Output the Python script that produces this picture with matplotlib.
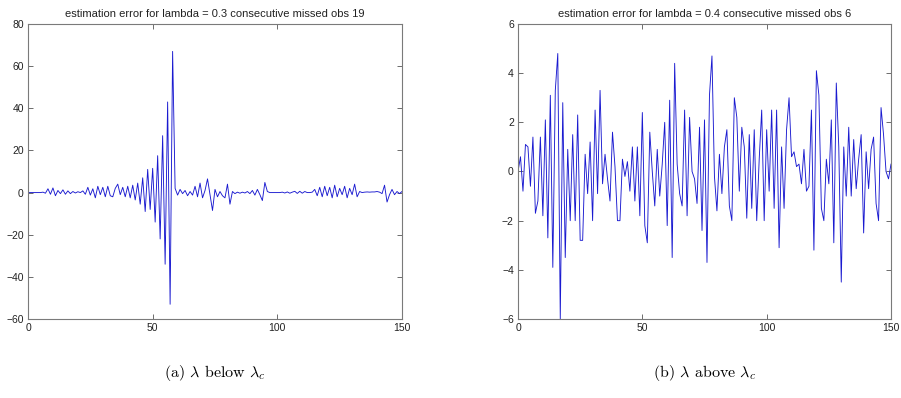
import matplotlib
matplotlib.use("Agg")
import matplotlib.pyplot as plt
import numpy as np

# estimation error, lambda = 0.3 (below lambda_c), samples t = 0..150
err_low = [
    0, 0, 0, 0, 0, 0, 0.2, -0.3, 1.8, -0.8,
    2.2, -1.5, 1.0, -0.5, 1.3, -0.8, 0.8, -0.5, 0.5, -0.2,
    0.4, 0.0, 0.8, -0.8, 2.5, -1.2, 1.8, -2.5, 3.0, -1.0,
    2.5, -2.0, 3.0, -1.5, -2.0, 2.0, 4.0, -1.0, 2.5, -2.0,
    3.0, -2.5, 3.5, -3.5, 4.5, -5.5, 7.0, -9.0, 11.0, -8.0,
    11.5, -14.0, 17.5, -22.0, 27.0, -34.0, 43.0, -53.0, 67.0, 2.0,
    -1.2, 1.5, -0.5, 1.0, -1.5, 0.5, -1.2, 3.0, -2.0, 4.5,
    -2.5, 1.0, 6.5, -1.0, -8.5, 1.5, -2.0, 0.5, -1.5, -2.5,
    4.0, -5.5, 0.5, -0.5, 0.2, -0.3, 0.2, -0.2, 0.5, -0.5,
    1.0, -1.2, 1.5, -1.0, -3.8, 4.8, 0.5, 0.0, 0.0, 0.0,
    0.0, 0.0, 0.2, -0.2, 0.3, -0.3, 0.2, 0.6, -0.4, 0.6,
    -0.3, 0.5, 0.0, 0.0, 0.2, 1.5, -1.5, 2.5, -2.0, 3.0,
    -1.5, 2.5, -2.5, 3.5, -2.0, 2.0, -1.0, 3.0, -2.5, 2.0,
    -1.0, 4.0, -2.0, 0.5, 0.0, 0.2, 0.3, 0.2, 0.3, 0.3,
    0.5, 0.2, -0.5, 3.5, -4.5, -1.0, 1.5, -1.0, 0.5, -0.5,
    0.5,
]

# estimation error, lambda = 0.4 (above lambda_c)
err_high = [
    0.0, 0.6, -0.8, 1.1, 1.0, -0.6, 1.4, -1.7, -1.2, 1.4,
    -1.8, 2.1, -2.7, 3.1, -3.9, 3.3, 4.8, -6.0, 2.8, -3.5,
    0.9, -2.0, 1.5, -2.0, 2.3, -2.8, -2.8, 0.7, -0.9, 1.2,
    -2.0, 2.5, -0.9, 3.3, -0.5, 0.7, -0.3, -1.2, 1.6, 0.2,
    -2.0, -2.0, 0.5, -0.2, 0.4, -0.8, 1.0, -1.2, 1.0, -1.8,
    2.4, -2.2, -2.9, 1.6, 0.0, -1.4, 0.9, -1.0, 0.3, 2.0,
    -2.2, 2.9, -3.5, 4.4, 0.3, -0.9, -1.4, 2.5, -1.8, 2.2,
    0.0, -0.3, -1.3, 1.8, -2.4, 2.1, -3.7, 3.1, 4.7, -0.2,
    -1.6, 0.7, -0.9, 1.0, 1.7, -1.4, -2.0, 3.0, 2.2, -0.8,
    1.8, 1.0, -1.9, 1.5, -1.5, 1.7, -2.0, 0.5, 2.5, -2.0,
    1.7, -0.8, 2.5, -1.5, 2.5, -3.1, 1.0, -1.5, 1.7, 3.0,
    0.6, 0.8, 0.2, 0.3, -0.5, 0.9, -0.8, -0.6, 2.5, -3.2,
    4.1, 3.1, -1.5, -2.0, 0.5, -0.5, 2.1, -2.9, 3.6, 1.0,
    -4.5, 1.0, -1.0, 1.8, -1.0, 1.3, -0.7, 0.5, 1.5, -2.5,
    0.8, -0.7, 0.9, 1.4, -1.3, -2.0, 2.6, 1.5, 0.0, -0.3,
    0.3,
]

titles = [
    "estimation error for lambda = 0.3 consecutive missed obs 19",
    "estimation error for lambda = 0.4 consecutive missed obs 6",
]
captions = [r"(a) $\lambda$ below $\lambda_c$", r"(b) $\lambda$ above $\lambda_c$"]
yticks = [np.arange(-60, 81, 20), np.arange(-6, 7, 2)]
ylims = [(-60, 80), (-6, 6)]
xticks = [0, 50, 100, 150]

plt.rcParams["mathtext.fontset"] = "cm"

fig = plt.figure(figsize=(9.01, 3.98), dpi=100, facecolor="white")
rects = [
    [28 / 901, 79 / 398, 374 / 901, 295 / 398],
    [518 / 901, 79 / 398, 373 / 901, 295 / 398],
]
cap_x = [215 / 901, 705 / 901]

for i, data in enumerate([err_low, err_high]):
    ax = fig.add_axes(rects[i])
    t = np.arange(len(data))
    ax.plot(t, data, color="#1a1ad0", linewidth=0.65)
    ax.set_xlim(0, 150)
    ax.set_ylim(*ylims[i])
    ax.set_xticks(xticks)
    ax.set_yticks(yticks[i])
    ax.tick_params(direction="in", length=3.5, width=0.6, color="#555555",
                   top=True, right=True, labelsize=7.5, labelcolor="#222222",
                   pad=3)
    for lab in ax.get_xticklabels() + ax.get_yticklabels():
        lab.set_family("Liberation Sans")
    for sp in ax.spines.values():
        sp.set_color("#7a7a7a")
        sp.set_linewidth(0.8)
    ax.set_title(titles[i], fontsize=8, family="Liberation Sans",
                 color="#222222", pad=5)
    fig.text(cap_x[i], 25 / 398, captions[i], ha="center", va="center",
             fontsize=11.5, family="cmr10")

fig.savefig("out.png", dpi=100, facecolor="white")
